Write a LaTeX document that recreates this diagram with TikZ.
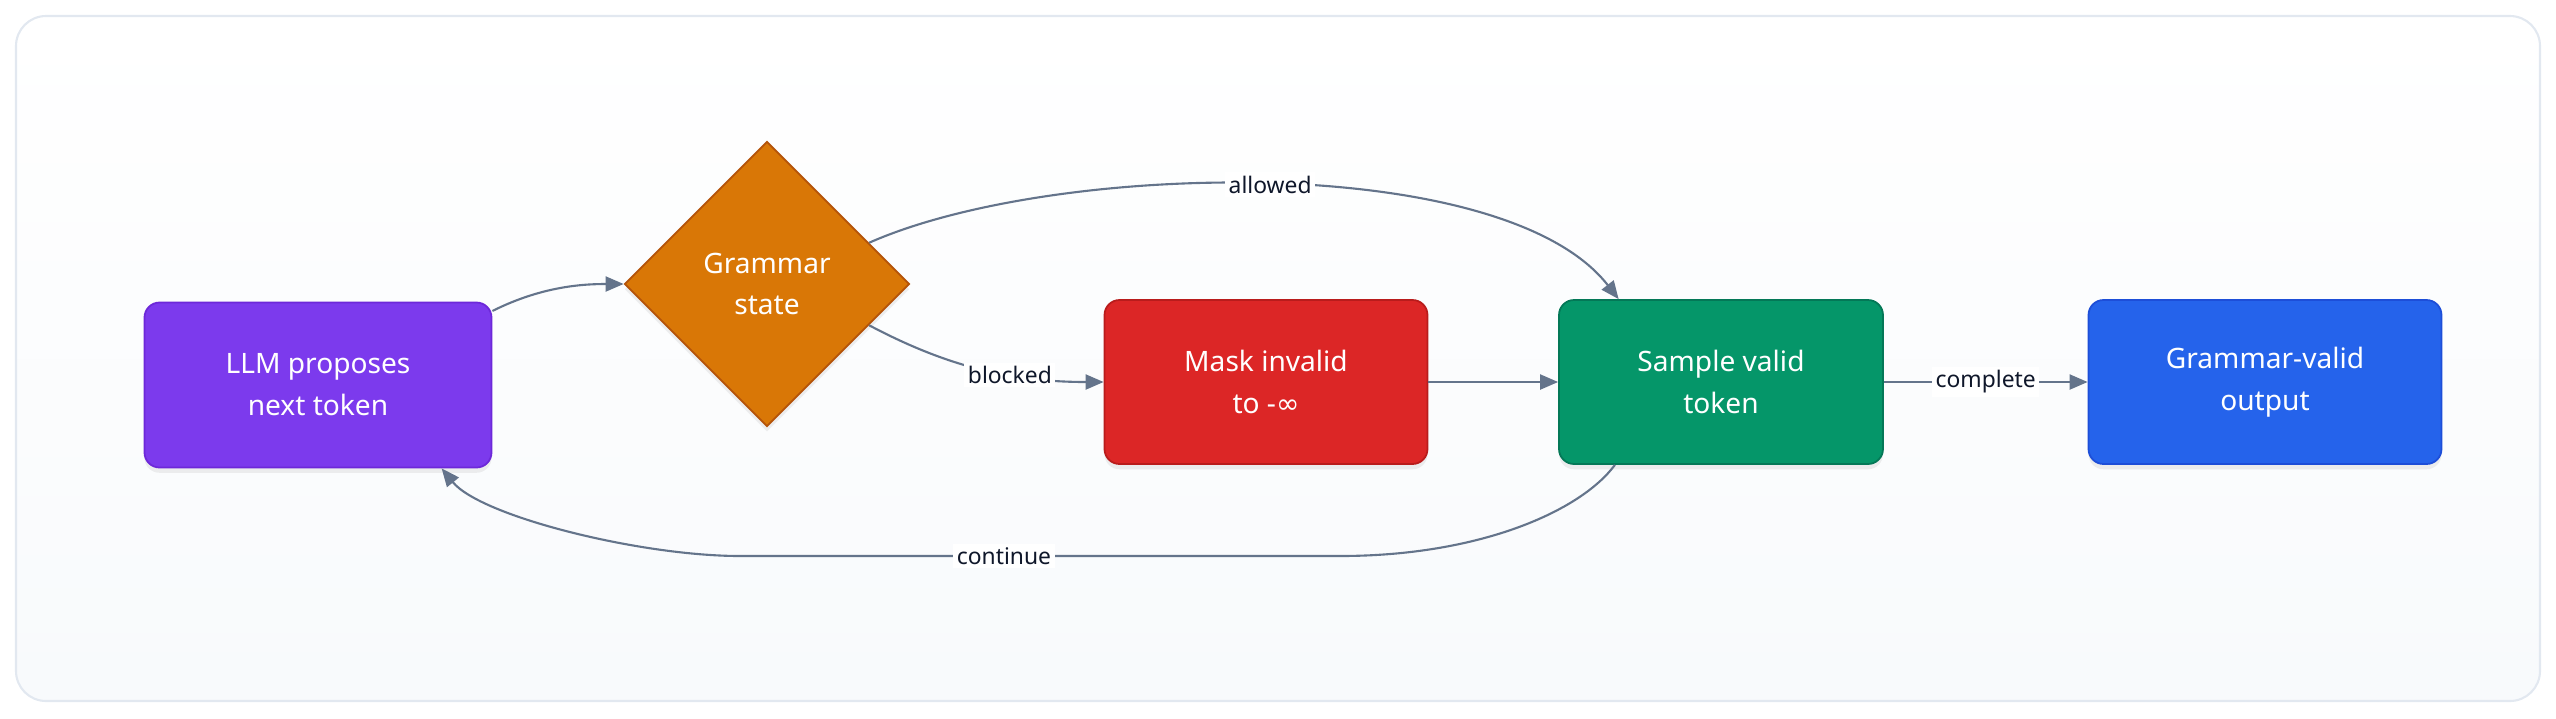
\documentclass[tikz,border=0pt]{standalone}
\usepackage{fontspec}
\setmainfont{Noto Sans}
\newfontfamily\symfont{DejaVu Sans}
\usetikzlibrary{shapes.geometric,arrows.meta,shadows}
\definecolor{FrameLine}{RGB}{226,232,240}
\definecolor{FrameFill}{RGB}{248,250,252}
\definecolor{EdgeGray}{RGB}{100,116,139}
\definecolor{LabelText}{RGB}{15,23,42}
\definecolor{LLMPurple}{RGB}{124,58,237}
\definecolor{LLMPurpleLine}{RGB}{109,40,217}
\definecolor{GramOrange}{RGB}{217,119,6}
\definecolor{GramOrangeLine}{RGB}{180,83,9}
\definecolor{MaskRed}{RGB}{220,38,38}
\definecolor{MaskRedLine}{RGB}{185,28,28}
\definecolor{SampleGreen}{RGB}{5,150,105}
\definecolor{SampleGreenLine}{RGB}{4,120,87}
\definecolor{OutBlue}{RGB}{37,99,235}
\definecolor{OutBlueLine}{RGB}{29,78,216}
\tikzset{
  stepbox/.style={rounded corners=0.15cm,minimum height=1.64cm,
                  align=center,text=white,line width=0.5pt,
                  font=\fontsize{8}{11.9}\selectfont,
                  drop shadow={opacity=0.12,shadow xshift=0pt,shadow yshift=-1.5pt}},
  pbox/.style={stepbox,draw=LLMPurpleLine,fill=LLMPurple,minimum width=3.47cm,minimum height=1.65cm},
  rbox/.style={stepbox,draw=MaskRedLine,fill=MaskRed,minimum width=3.23cm},
  gbox/.style={stepbox,draw=SampleGreenLine,fill=SampleGreen,minimum width=3.24cm},
  bbox/.style={stepbox,draw=OutBlueLine,fill=OutBlue,minimum width=3.53cm},
  dbox/.style={diamond,aspect=1,draw=GramOrangeLine,fill=GramOrange,
               minimum width=2.85cm,minimum height=2.85cm,inner sep=0pt,
               align=center,text=white,line width=0.5pt,
               font=\fontsize{8}{11.9}\selectfont,
               drop shadow={opacity=0.12,shadow xshift=0pt,shadow yshift=-1.5pt}},
  arr/.style={-{Triangle[length=0.18cm,width=0.15cm]},EdgeGray,line width=0.6pt},
}

\begin{document}
\begin{tikzpicture}[
    elabel/.style={fill=white,text=LabelText,inner sep=1pt,
                   font=\fontsize{6.5}{8}\selectfont}
  ]
  \useasboundingbox (0,0) rectangle (25.56,-7.18);
  % Frame
  \draw[FrameLine,line width=0.6pt,rounded corners=0.3cm,
        top color=white,bottom color=FrameFill] (0.16,-0.16) rectangle (25.40,-7.01);

  % Steps
  \node[pbox] (llm) at (3.18,-3.85) {LLM proposes\\next token};
  \node[dbox] (gram) at (7.67,-2.84) {Grammar\\state};
  \node[rbox] (mask) at (12.66,-3.82) {Mask invalid\\to -{\symfont ∞}};
  \node[gbox] (sample) at (17.21,-3.82) {Sample valid\\token};
  \node[bbox] (done) at (22.65,-3.82) {Grammar-valid\\output};

  % Forward flow
  \draw[arr] (llm.23) .. controls +(0.5,0.25) and +(-0.4,0) .. (gram.west);
  \draw[arr] (gram.22) .. controls +(1.85,0.82) and +(-1.15,1.48) .. (sample.141)
        node[elabel,pos=0.5] {allowed};
  \draw[arr] (gram.-22) .. controls +(0.7,-0.37) and +(-1.0,0) .. (mask.west)
        node[elabel,pos=0.65] {blocked};
  \draw[arr] (mask) -- (sample);
  \draw[arr] (sample) -- node[elabel] {complete} (done);

  % Loop back
  \coordinate (cr) at (13.40,-5.56);
  \coordinate (cl) at (7.40,-5.56);
  \draw[arr] (sample.-142.5) .. controls +(-0.34,-0.46) and +(1.4,0) .. (cr)
        -- (cl) node[elabel,pos=0.56] {continue}
        .. controls +(-1.0,0) and +(0.39,-0.48) .. (llm.-34);
\end{tikzpicture}
\end{document}
